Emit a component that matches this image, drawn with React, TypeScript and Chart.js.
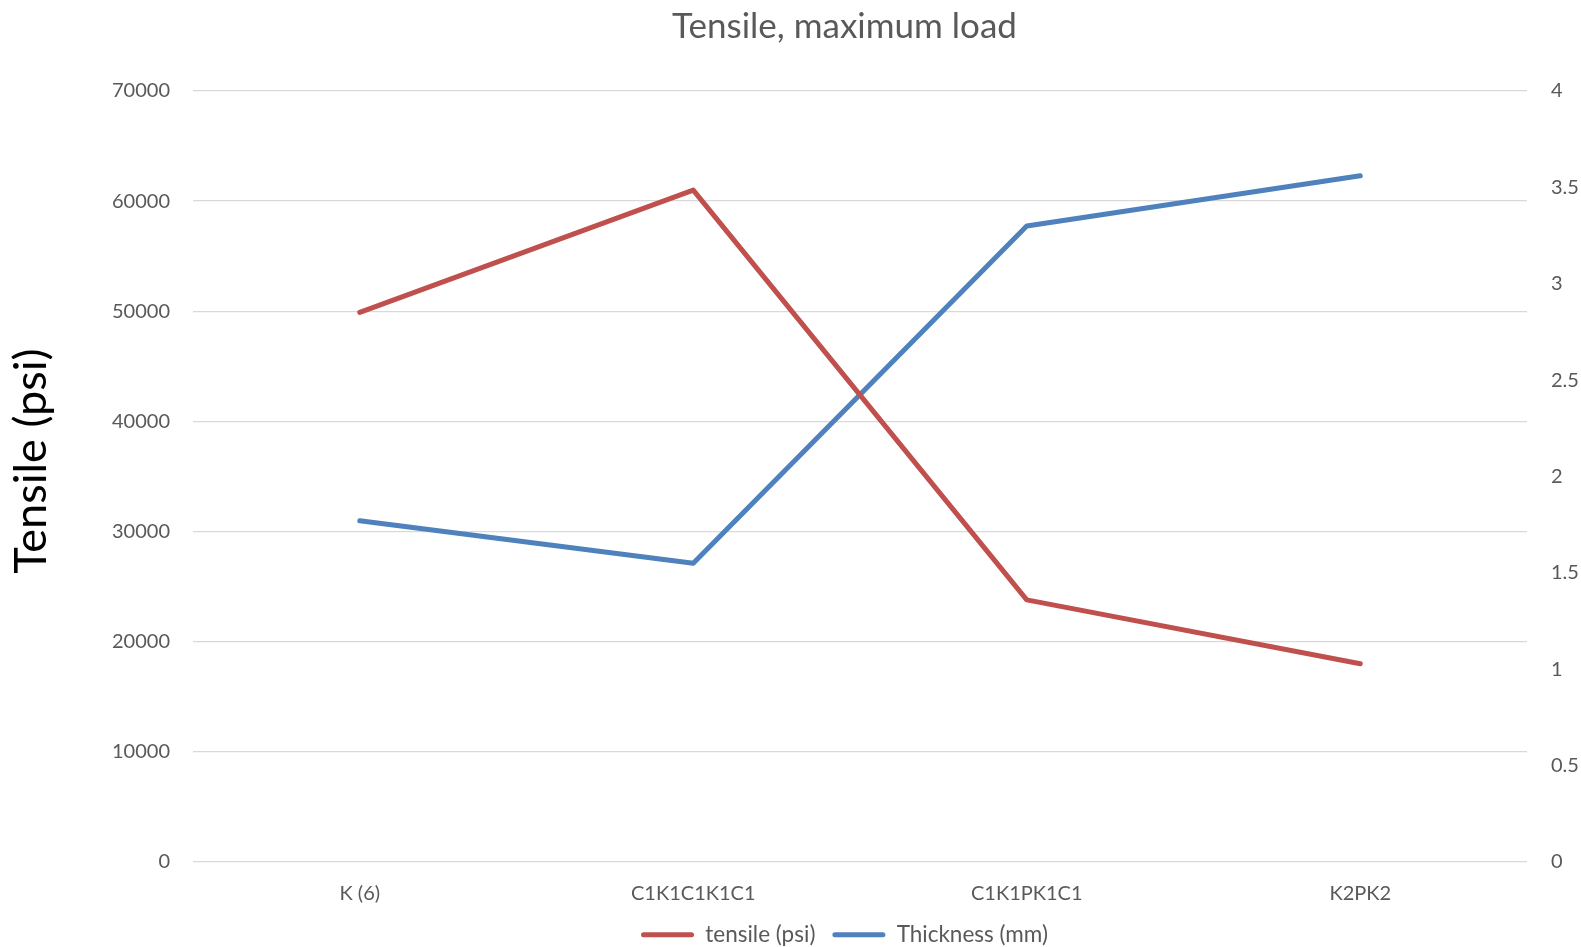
import React, { useEffect, useRef } from "react";
import { Chart, registerables } from "chart.js";

Chart.register(...registerables);

const categories = ["K (6)", "C1K1C1K1C1", "C1K1PK1C1", "K2PK2"];
const tensilePsi = [49900, 61000, 23800, 18000];
const thicknessMm = [1.77, 1.55, 3.3, 3.56];

const FONT = "Lato, 'Open Sans', sans-serif";
const TEXT = "#595959";
const RED = "#C0504D";
const BLUE = "#4F81BD";

// Rotated left-hand axis title, drawn beside the plot area
const axisTitlePlugin = {
  id: "axisTitle",
  afterDraw(chart: any) {
    const { ctx, chartArea } = chart;
    const cy = chartArea.top + (chartArea.bottom - chartArea.top) * 0.48;
    ctx.save();
    ctx.translate(31, cy);
    ctx.rotate(-Math.PI / 2);
    ctx.font = `45px ${FONT}`;
    ctx.fillStyle = "#000000";
    ctx.textAlign = "center";
    ctx.textBaseline = "middle";
    ctx.fillText("Tensile (psi)", 0, 0);
    ctx.restore();
  },
};

export default function App() {
  const canvasRef = useRef<HTMLCanvasElement | null>(null);

  useEffect(() => {
    const canvas = canvasRef.current;
    if (!canvas) return;
    const chart = new Chart(canvas, {
      type: "line",
      data: {
        labels: categories,
        datasets: [
          {
            label: "tensile (psi)",
            data: tensilePsi,
            borderColor: RED,
            backgroundColor: RED,
            borderWidth: 5,
            borderCapStyle: "round",
            borderJoinStyle: "round",
            pointRadius: 0,
            tension: 0,
            yAxisID: "y",
          },
          {
            label: "Thickness (mm)",
            data: thicknessMm,
            borderColor: BLUE,
            backgroundColor: BLUE,
            borderWidth: 5,
            borderCapStyle: "round",
            borderJoinStyle: "round",
            pointRadius: 0,
            tension: 0,
            yAxisID: "y1",
          },
        ],
      },
      options: {
        responsive: false,
        animation: false,
        devicePixelRatio: 1,
        layout: { padding: { left: 108, right: 0, top: 0, bottom: -9 } },
        plugins: {
          title: {
            display: true,
            text: "Tensile, maximum load",
            color: TEXT,
            font: { family: FONT, size: 35, weight: "normal" },
            padding: { top: 6, bottom: 43 },
          },
          legend: {
            position: "bottom",
            labels: {
              color: TEXT,
              font: { family: FONT, size: 22.5 },
              boxWidth: 53,
              boxHeight: 5,
              padding: 17,
              useBorderRadius: true,
              borderRadius: 2.5,
              generateLabels(chart: any) {
                const items = Chart.defaults.plugins.legend.labels.generateLabels(chart);
                return items.map((it: any) => ({ ...it, lineWidth: 0 }));
              },
            },
          },
          tooltip: { enabled: false },
        },
        scales: {
          x: {
            offset: true,
            grid: { display: false, drawTicks: false },
            border: { display: false },
            ticks: {
              color: TEXT,
              font: { family: FONT, size: 20 },
              padding: 20,
              maxRotation: 0,
            },
            afterFit(scale: any) {
              scale.height = 44.5;
            },
          },
          y: {
            position: "left",
            min: 0,
            max: 70000,
            grid: { color: "#D9D9D9", lineWidth: 1.3, drawTicks: false },
            border: { display: false },
            ticks: {
              stepSize: 10000,
              color: TEXT,
              font: { family: FONT, size: 20 },
              padding: 23,
              callback: (v: any) => String(v),
            },
            afterFit(scale: any) {
              scale.width = 85;
            },
          },
          y1: {
            position: "right",
            min: 0,
            max: 4,
            grid: { display: false, drawTicks: false },
            border: { display: false },
            ticks: {
              stepSize: 0.5,
              color: TEXT,
              font: { family: FONT, size: 20 },
              padding: 24,
              callback: (v: any) => String(v),
            },
            afterFit(scale: any) {
              scale.width = 54;
            },
          },
        },
      },
      plugins: [axisTitlePlugin],
    });
    return () => chart.destroy();
  }, []);

  return (
    <div style={{ position: "fixed", left: 0, top: 0, width: 1581, height: 947, background: "#fff" }}>
      <canvas ref={canvasRef} width={1581} height={947} />
    </div>
  );
}
